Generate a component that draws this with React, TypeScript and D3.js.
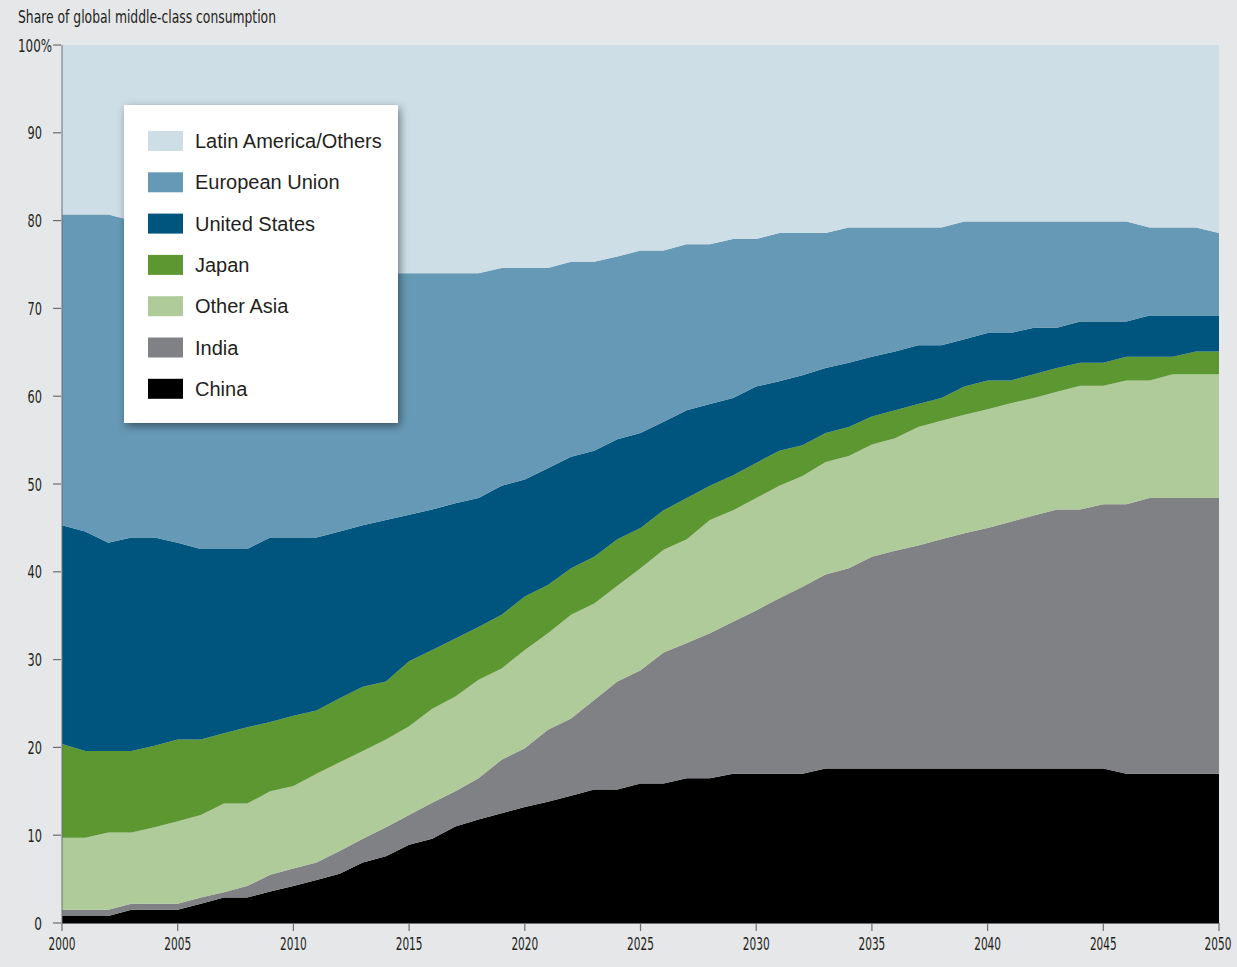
import React from 'react';
import * as d3 from 'd3';

// years on the x axis
const years = d3.range(2000, 2051);

// share of global middle-class consumption, %
const china = [
  0.8, 0.8, 0.8, 1.5, 1.5, 1.5, 2.2, 2.9, 2.9, 3.6, 4.2, 4.9, 5.6, 6.9, 7.6, 8.9, 9.6,
  11.0, 11.8, 12.5, 13.2, 13.8, 14.5, 15.2, 15.2, 15.9, 15.9, 16.5, 16.5, 17.0, 17.0, 17.0, 17.0,
  17.6, 17.6, 17.6, 17.6, 17.6, 17.6, 17.6, 17.6, 17.6, 17.6, 17.6, 17.6, 17.6, 17.0, 17.0, 17.0, 17.0, 17.0,
];
const india = [
  0.7, 0.7, 0.7, 0.7, 0.7, 0.7, 0.7, 0.6, 1.3, 1.9, 2.0, 2.0, 2.6, 2.7, 3.3, 3.4, 4.1,
  4.0, 4.7, 6.1, 6.7, 8.2, 8.8, 10.2, 12.3, 12.9, 14.9, 15.4, 16.5, 17.3, 18.6, 20.0, 21.3,
  22.1, 22.8, 24.1, 24.8, 25.4, 26.1, 26.8, 27.4, 28.1, 28.8, 29.5, 29.5, 30.1, 30.7, 31.4, 31.4, 31.4, 31.4,
];
const otherAsia = [
  8.2, 8.2, 8.8, 8.1, 8.7, 9.4, 9.4, 10.1, 9.4, 9.5, 9.4, 10.1, 10.1, 10.0, 10.0, 10.1, 10.7,
  10.8, 11.2, 10.4, 11.2, 11.0, 11.8, 11.0, 10.9, 11.6, 11.7, 11.8, 12.9, 12.7, 12.8, 12.8, 12.6,
  12.8, 12.8, 12.8, 12.8, 13.5, 13.5, 13.5, 13.5, 13.5, 13.4, 13.4, 14.1, 13.5, 14.1, 13.4, 14.1, 14.1, 14.1,
];
const japan = [
  10.7, 9.9, 9.3, 9.3, 9.3, 9.3, 8.6, 8.0, 8.7, 7.9, 8.0, 7.2, 7.3, 7.3, 6.6, 7.4, 6.7,
  6.6, 6.0, 6.1, 6.1, 5.5, 5.3, 5.3, 5.3, 4.6, 4.5, 4.7, 3.9, 4.0, 4.0, 4.0, 3.5,
  3.3, 3.3, 3.2, 3.2, 2.6, 2.6, 3.2, 3.3, 2.6, 2.7, 2.7, 2.6, 2.6, 2.7, 2.7, 2.0, 2.6, 2.6,
];
const unitedStates = [
  24.9, 25.0, 23.7, 24.3, 23.7, 22.4, 21.7, 21.0, 20.3, 21.0, 20.3, 19.7, 19.0, 18.4, 18.4, 16.7, 16.0,
  15.4, 14.7, 14.7, 13.3, 13.3, 12.7, 12.1, 11.4, 10.8, 10.1, 10.0, 9.3, 8.8, 8.7, 7.9, 8.0,
  7.4, 7.3, 6.8, 6.7, 6.7, 6.0, 5.4, 5.4, 5.4, 5.3, 4.6, 4.7, 4.7, 4.0, 4.7, 4.7, 4.1, 4.1,
];
const europeanUnion = [
  35.4, 36.1, 37.4, 36.1, 35.4, 35.3, 35.3, 34.7, 34.0, 32.1, 31.4, 31.4, 30.0, 29.3, 28.1, 27.5, 26.9,
  26.2, 25.6, 24.8, 24.1, 22.8, 22.2, 21.5, 20.8, 20.8, 19.5, 18.9, 18.2, 18.1, 16.8, 16.9, 16.2,
  15.4, 15.4, 14.7, 14.1, 13.4, 13.4, 13.4, 12.7, 12.7, 12.1, 12.1, 11.4, 11.4, 11.4, 10.0, 10.0, 10.0, 9.4,
];
const latinAmerica = [
  19.3, 19.3, 19.3, 20.0, 20.7, 21.4, 22.1, 22.7, 23.4, 24.0, 24.7, 24.7, 25.4, 25.4, 26.0, 26.0, 26.0,
  26.0, 26.0, 25.4, 25.4, 25.4, 24.7, 24.7, 24.1, 23.4, 23.4, 22.7, 22.7, 22.1, 22.1, 21.4, 21.4,
  21.4, 20.8, 20.8, 20.8, 20.8, 20.8, 20.1, 20.1, 20.1, 20.1, 20.1, 20.1, 20.1, 20.1, 20.8, 20.8, 20.8, 21.4,
];

// stacking order, bottom to top
const seriesNames = ['China', 'India', 'Other Asia', 'Japan', 'United States', 'European Union', 'Latin America/Others'];
const seriesValues = [china, india, otherAsia, japan, unitedStates, europeanUnion, latinAmerica];
const seriesColors = ['#000000', '#808184', '#afcb99', '#5c9732', '#00557f', '#6699b5', '#cddee6'];

const yTicks = [0, 10, 20, 30, 40, 50, 60, 70, 80, 90, 100];
const yTickLabels = ['0', '10', '20', '30', '40', '50', '60', '70', '80', '90', '100%'];
const xTicks = [2000, 2005, 2010, 2015, 2020, 2025, 2030, 2035, 2040, 2045, 2050];

// no condensed face like the original's, so squeeze glyphs with textLength
const narrow = "'Liberation Sans Narrow', 'DejaVu Sans Condensed', sans-serif";
const digitW = 6.7;

export default function App() {
  const width = 1237;
  const height = 967;
  const margin = { top: 45, right: 18, bottom: 44, left: 62 };

  const x = d3.scaleLinear().domain([2000, 2050]).range([margin.left, width - margin.right]);
  const y = d3.scaleLinear().domain([0, 100]).range([height - margin.bottom, margin.top]);

  const rows = years.map((yr, i) => {
    const row: any = { year: yr };
    seriesNames.forEach((n, k) => { row[n] = seriesValues[k][i]; });
    return row;
  });

  const layers = d3.stack<any>().keys(seriesNames)(rows);

  const area = d3.area<any>()
    .x(d => x(d.data.year))
    .y0(d => y(d[0]))
    .y1(d => y(Math.min(d[1], 100)));

  const legendItems = seriesNames.map((n, i) => ({ name: n, color: seriesColors[i] })).reverse();
  const lx = 124, ly = 105;

  return (
    <svg width={width} height={height} style={{ position: 'absolute', left: 0, top: 0, display: 'block' }}>
      <defs>
        <filter id="shadow" x="-20%" y="-20%" width="140%" height="140%">
          <feDropShadow dx="2" dy="3" stdDeviation="4" floodColor="#000" floodOpacity="0.45" />
        </filter>
      </defs>
      <rect width={width} height={height} fill="#e6e7e9" />

      <text x={18} y={23} fontFamily={narrow} fontSize={18} fill="#231f20"
        textLength={258} lengthAdjust="spacingAndGlyphs">
        Share of global middle-class consumption
      </text>

      {layers.map((layer, i) => (
        <path key={layer.key} d={area(layer) || ''} fill={seriesColors[i]} />
      ))}

      {/* axes */}
      <line x1={x(2000)} x2={x(2000)} y1={y(0)} y2={y(100)} stroke="#6d6e71" strokeWidth={1} />
      <line x1={x(2000)} x2={x(2050)} y1={y(0) + 0.5} y2={y(0) + 0.5} stroke="#6d6e71" strokeWidth={1} />

      {yTicks.map((t, i) => {
        const label = yTickLabels[i];
        const isTop = label.endsWith('%');
        return (
          <g key={t}>
            <line x1={x(2000) - 9} x2={x(2000) - 1} y1={y(t)} y2={y(t)} stroke="#6d6e71" strokeWidth={1.2} />
            <text x={isTop ? 18 : 42} y={y(t) + 6.5} textAnchor={isTop ? 'start' : 'end'} fontFamily={narrow}
              fontSize={18.5} fill="#231f20"
              textLength={isTop ? 34 : label.length * digitW + 1} lengthAdjust="spacingAndGlyphs">
              {label}
            </text>
          </g>
        );
      })}

      {xTicks.map(t => (
        <g key={t}>
          <line x1={x(t)} x2={x(t)} y1={y(0)} y2={y(0) + 8} stroke="#6d6e71" strokeWidth={1.2} />
          <text x={t === 2050 ? x(t) - 1 : x(t)} y={y(0) + 27} textAnchor="middle" fontFamily={narrow}
            fontSize={18.5} fill="#231f20" textLength={4 * digitW} lengthAdjust="spacingAndGlyphs">
            {t}
          </text>
        </g>
      ))}

      {/* legend */}
      <rect x={lx} y={ly} width={274} height={318} fill="#ffffff" filter="url(#shadow)" />
      {legendItems.map((item, i) => {
        const cy = 141 + i * 41.3;
        return (
          <g key={item.name}>
            <rect x={148} y={cy - 10} width={35} height={20} fill={item.color} />
            <text x={195} y={cy + 7} fontFamily="'Liberation Sans', Arial, sans-serif" fontSize={20} fill="#231f20">
              {item.name}
            </text>
          </g>
        );
      })}
    </svg>
  );
}
